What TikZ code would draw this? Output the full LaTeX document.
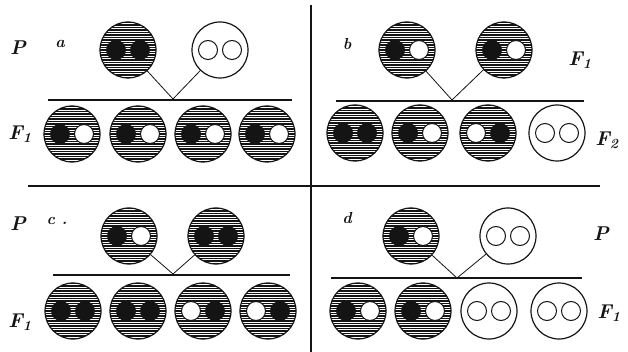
\documentclass[tikz,border=0pt]{standalone}
\usepackage{fontspec}
\usepackage{tikz}
\usetikzlibrary{positioning}
\definecolor{inkblack}{HTML}{141414}
\tikzset{
  cell/.style={circle, draw=inkblack, line width=1.2pt, minimum size=56pt,
               inner sep=0pt},
  % horizontal hatching, clipped to the circle by path picture
  hatched/.style={cell, path picture={
      \foreach \k in {-27.5,-25,...,27.5}
        \draw[inkblack, line width=1.1pt]
          ([yshift=\k pt]path picture bounding box.west) --
          ([yshift=\k pt]path picture bounding box.east);}},
  plain/.style={cell, fill=white},
  dom/.style={circle, fill=inkblack, minimum size=20pt, inner sep=0pt},
  rec/.style={circle, draw=inkblack, fill=white, line width=1pt,
              minimum size=19pt, inner sep=0pt},
  cross/.style={draw=inkblack, line width=0.8pt},
  base/.style={draw=inkblack, line width=1.2pt},
  divider/.style={draw=inkblack, line width=1.6pt},
  gen/.style={font=\fontsize{20}{22}\selectfont\bfseries\itshape, text=inkblack},
  tag/.style={font=\fontsize{16}{18}\selectfont\bfseries\itshape, text=inkblack},
}
\newcommand{\organism}[5]{%
  \node[#3] (#1) at #2 {};
  \node[#4] (#1-l) at ([xshift=-12pt]#1.center) {};
  \node[#5] (#1-r) at ([xshift=12pt]#1.center) {};
}

\begin{document}
\begin{tikzpicture}[x=1pt, y=-1pt]
\useasboundingbox (0,0) rectangle (628,352);

% dividers
\coordinate (vtop) at (311,5);
\coordinate (vbot) at (311,352);
\coordinate (hleft) at (28,186);
\coordinate (hright) at (600,186);
\draw[divider] (vtop) -- (vbot);
\draw[divider] (hleft) -- (hright);

% ============================================ a
\node[gen] (a-gp) at (18,48) {P};
\node[tag] (a-tag) at (60,44) {a};
\organism{a-p1}{(128,50)}{hatched}{dom}{dom}
\organism{a-p2}{(220,50)}{plain}{rec}{rec}
\coordinate (a-j) at (173,99);
\coordinate (a-bl) at (48,100);
\coordinate (a-br) at (292,100);
\draw[base] (a-bl) -- (a-br);
\draw[cross] (a-p1) -- (a-j);
\draw[cross] (a-p2) -- (a-j);
\foreach \n/\x/\s/\l/\r in {1/72/hatched/dom/rec, 2/138/hatched/dom/rec,
                            3/203/hatched/dom/rec, 4/267/hatched/dom/rec}
  {\organism{a-c\n}{(\x,134)}{\s}{\l}{\r}}
\node[gen] (a-gf) at (20,134) {F\textsubscript{1}};

% ============================================ b
\node[tag] (b-tag) at (347,44) {b};
\organism{b-p1}{(407,50)}{hatched}{dom}{rec}
\organism{b-p2}{(504,50)}{hatched}{dom}{rec}
\node[gen] (b-gp) at (580,60) {F\textsubscript{1}};
\coordinate (b-j) at (452,100);
\coordinate (b-bl) at (336,101);
\coordinate (b-br) at (584,101);
\draw[base] (b-bl) -- (b-br);
\draw[cross] (b-p1) -- (b-j);
\draw[cross] (b-p2) -- (b-j);
\foreach \n/\x/\s/\l/\r in {1/355/hatched/dom/dom, 2/420/hatched/dom/rec,
                            3/488/hatched/rec/dom, 4/557/plain/rec/rec}
  {\organism{b-c\n}{(\x,133)}{\s}{\l}{\r}}
\node[gen] (b-gf) at (607,140) {F\textsubscript{2}};

% ============================================ c
\node[gen] (c-gp) at (18,224) {P};
\node[tag] (c-tag) at (57,221) {c .};
\organism{c-p1}{(129,236)}{hatched}{dom}{rec}
\organism{c-p2}{(216,236)}{hatched}{dom}{dom}
\coordinate (c-j) at (173,274);
\coordinate (c-bl) at (53,275);
\coordinate (c-br) at (290,275);
\draw[base] (c-bl) -- (c-br);
\draw[cross] (c-p1) -- (c-j);
\draw[cross] (c-p2) -- (c-j);
\foreach \n/\x/\s/\l/\r in {1/73/hatched/dom/dom, 2/138/hatched/dom/dom,
                            3/203/hatched/rec/dom, 4/268/hatched/rec/dom}
  {\organism{c-c\n}{(\x,311)}{\s}{\l}{\r}}
\node[gen] (c-gf) at (20,322) {F\textsubscript{1}};

% ============================================ d
\node[tag] (d-tag) at (347,218) {d};
\organism{d-p1}{(411,236)}{hatched}{dom}{rec}
\organism{d-p2}{(508,236)}{plain}{rec}{rec}
\node[gen] (d-gp) at (601,234) {P};
\coordinate (d-j) at (457,278);
\coordinate (d-bl) at (331,278);
\coordinate (d-br) at (582,278);
\draw[base] (d-bl) -- (d-br);
\draw[cross] (d-p1) -- (d-j);
\draw[cross] (d-p2) -- (d-j);
\foreach \n/\x/\s/\l/\r in {1/358/hatched/dom/rec, 2/423/hatched/dom/rec,
                            3/489/plain/rec/rec, 4/559/plain/rec/rec}
  {\organism{d-c\n}{(\x,311)}{\s}{\l}{\r}}
\node[gen] (d-gf) at (609,313) {F\textsubscript{1}};

\end{tikzpicture}
\end{document}
